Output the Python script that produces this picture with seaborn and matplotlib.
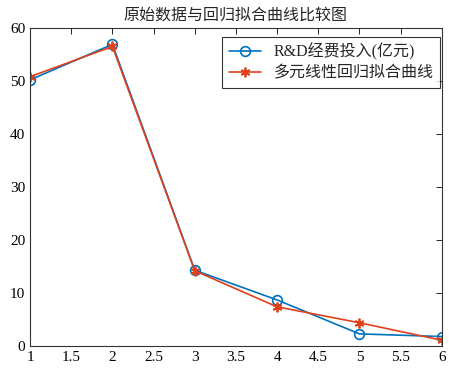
import numpy as np
import pandas as pd
import matplotlib
matplotlib.use('Agg')
import matplotlib.pyplot as plt
import seaborn as sns

# 数据
years = [1, 2, 3, 4, 5, 6]
rd_input = [50.2, 56.9, 14.3, 8.7, 2.3, 1.8]
fit_curve = [50.8, 56.5, 14.2, 7.4, 4.4, 1.1]
x_ticks = [1, 1.5, 2, 2.5, 3, 3.5, 4, 4.5, 5, 5.5, 6]
y_ticks = [0, 10, 20, 30, 40, 50, 60]

sns.set_style('white')
plt.rcParams['font.family'] = ['Liberation Serif', 'Noto Sans CJK SC']
plt.rcParams['axes.unicode_minus'] = False

df = pd.DataFrame({'x': years, 'rd': rd_input, 'fit': fit_curve})

fig = plt.figure(figsize=(4.49, 3.77), dpi=100)
ax = fig.add_axes([0.067, 0.082, 0.917, 0.844])

sns.lineplot(data=df, x='x', y='rd', ax=ax, color='#0072BD', marker='o',
             markersize=7, markerfacecolor='none', markeredgecolor='#0072BD',
             markeredgewidth=1.2, linewidth=1.2, label='R&D经费投入(亿元)')
sns.lineplot(data=df, x='x', y='fit', ax=ax, color='#E0401A', marker=(6, 2, 0),
             markersize=7, markeredgecolor='#E0401A', markeredgewidth=1.3,
             linewidth=1.2, label='多元线性回归拟合曲线')

ax.set_xlim(1, 6)
ax.set_ylim(0, 60)
ax.set_xticks(x_ticks)
ax.set_xticklabels([f'{t:g}' for t in x_ticks])
ax.set_yticks(y_ticks)
ax.set_xlabel('')
ax.set_ylabel('')
ax.tick_params(direction='in', length=4, width=0.6, labelsize=11, colors='black',
               top=True, right=True)
for s in ax.spines.values():
    s.set_color('#333333')
    s.set_linewidth(0.8)
ax.set_title('原始数据与回归拟合曲线比较图', fontsize=11.5, pad=6)

leg = ax.legend(loc='upper right', bbox_to_anchor=(0.995, 0.972), fontsize=11.5,
                frameon=True, fancybox=False, edgecolor='black', handlelength=2.0,
                borderpad=0.4, labelspacing=0.3, borderaxespad=0.0)
leg.get_frame().set_linewidth(0.8)

fig.savefig('out.png', dpi=100)
